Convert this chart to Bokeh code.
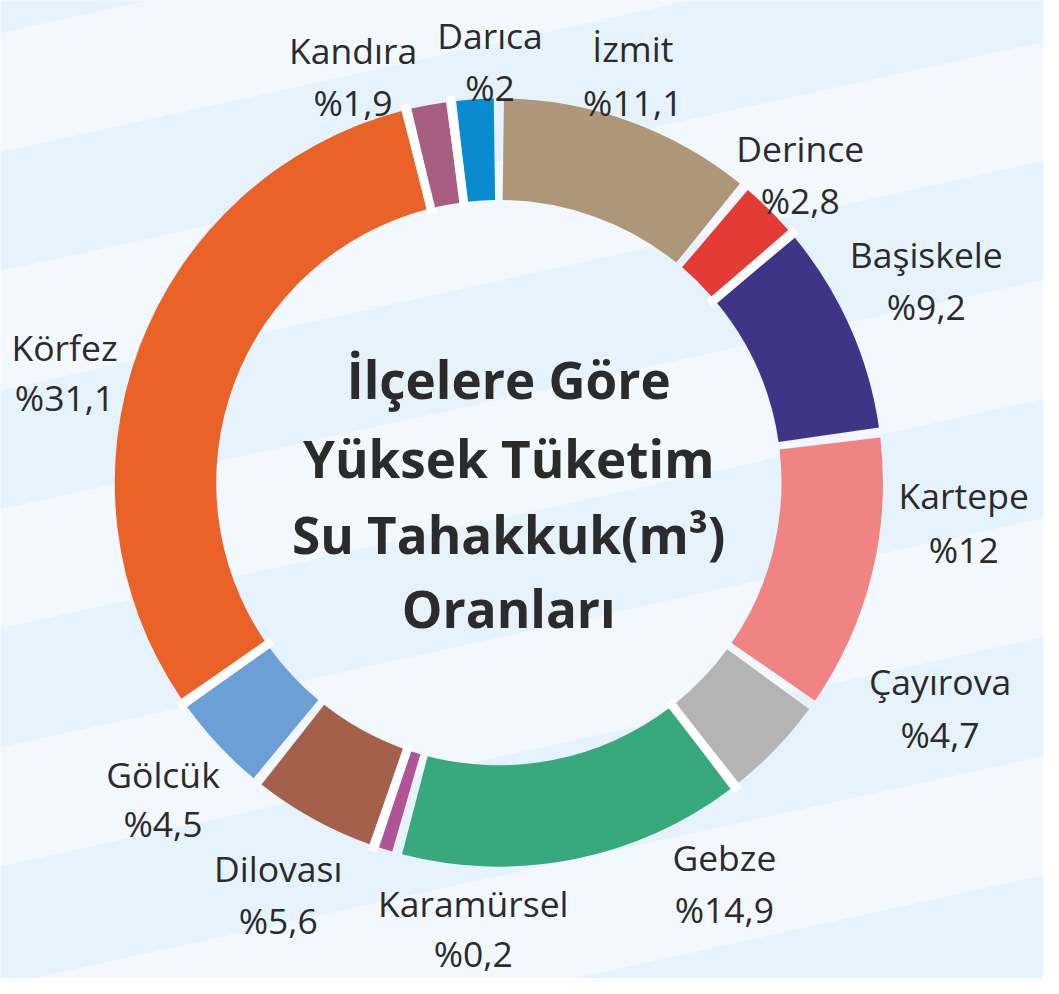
import numpy as np
from bokeh.plotting import figure
from bokeh.models import Range1d, ColumnDataSource
from bokeh.embed import file_html
from bokeh.resources import INLINE
from bokeh.core.properties import value

# ---------------- data ----------------
districts = ["İzmit", "Derince", "Başiskele", "Kartepe", "Çayırova", "Gebze",
             "Karamürsel", "Dilovası", "Gölcük", "Körfez", "Kandıra", "Darıca"]
shares = [11.1, 2.8, 9.2, 12, 4.7, 14.9, 0.2, 5.6, 4.5, 31.1, 1.9, 2]
title_lines = ["İlçelere Göre", "Yüksek Tüketim", "Su Tahakkuk(m³)", "Oranları"]

# ---------------- styles / layout ----------------
colors = ["#ad9778", "#e43b34", "#3f3586", "#f08482", "#b4b4b4", "#38a97c",
          "#b05497", "#a5604b", "#6b9fd5", "#eb6228", "#a85e82", "#0a8bd0"]
white_gap_after = [False, True, False, False, True, False,
                   True, False, True, True, True, False]
# label anchor (centre x, name baseline, value baseline) in reference pixels
label_pos = {
    "İzmit": (642, 48, 103), "Derince": (812, 150, 203), "Başiskele": (940, 258, 310),
    "Kartepe": (978, 503, 557), "Çayırova": (954, 692, 745), "Gebze": (735, 871, 923),
    "Karamürsel": (480, 917, 968), "Dilovası": (282, 882, 935), "Gölcük": (165, 786, 836),
    "Körfez": (65, 352, 403), "Kandıra": (358, 50, 103), "Darıca": (497, 35, 88),
}
IMG_W, IMG_H = 1059, 994
def Y(sy):
    return IMG_H - sy

W, H = 1043, 978
S = W / IMG_W  # pixel scale of reference units

CX, CY = 506, Y(490)
R_IN, R_OUT = 287, 390
FONT = value("Open Sans")
TXT = "#2b2b2b"
LIGHT, DARK = "#f2f8fe", "#e6f3fc"
LBL_SIZE = f"{36 * S:.1f}px"
TTL_SIZE = f"{52 * S:.1f}px"

p = figure(width=W, height=H, x_range=Range1d(0, IMG_W), y_range=Range1d(0, IMG_H),
           output_backend="svg", toolbar_location=None, min_border=0,
           background_fill_color=LIGHT, border_fill_color=LIGHT)
p.axis.visible = False
p.grid.visible = False
p.outline_line_color = None

# background stripes
slope = 0.22
xs, ys = [], []
for k in range(-1, 6):
    top = 154 + 242 * k
    bot = top + 121
    xs.append([0, IMG_W, IMG_W, 0])
    ys.append([Y(top), Y(top - slope * IMG_W), Y(bot - slope * IMG_W), Y(bot)])
p.patches(xs, ys, fill_color=DARK, line_color=None)

# donut geometry (tiny slices get a minimum visible span)
vals = np.array(shares, dtype=float)
disp = np.maximum(vals, 1.0)
disp = disp / disp.sum()
cum = np.concatenate([[0], np.cumsum(disp)])
pad = 4.5 / ((R_IN + R_OUT) / 2)
start = np.pi / 2 - 2 * np.pi * cum[:-1] - pad
end = np.pi / 2 - 2 * np.pi * cum[1:] + pad

src = ColumnDataSource(dict(start=start, end=end, color=colors, name=districts))
p.annular_wedge(x=CX, y=CY, inner_radius=R_IN, outer_radius=R_OUT,
                start_angle="start", end_angle="end", direction="clock",
                fill_color="color", line_color=None, source=src)

# white separators
ang = np.pi / 2 - 2 * np.pi * cum[1:]
wx0, wy0, wx1, wy1 = [], [], [], []
for a, w in zip(ang, white_gap_after):
    if w:
        wx0.append(CX + (R_IN - 6) * np.cos(a)); wy0.append(CY + (R_IN - 6) * np.sin(a))
        wx1.append(CX + (R_OUT + 6) * np.cos(a)); wy1.append(CY + (R_OUT + 6) * np.sin(a))
p.segment(wx0, wy0, wx1, wy1, line_color="white", line_width=9 * S)

# labels
def fmt(v):
    return "%" + f"{v:g}".replace(".", ",")

lx = [label_pos[d][0] for d in districts]
p.text(x=lx, y=[Y(label_pos[d][1]) for d in districts], text=districts,
       text_font=FONT, text_font_size=LBL_SIZE, text_color=TXT,
       text_align="center", text_baseline="alphabetic")
p.text(x=lx, y=[Y(label_pos[d][2]) for d in districts], text=[fmt(v) for v in shares],
       text_font=FONT, text_font_size=LBL_SIZE, text_color=TXT,
       text_align="center", text_baseline="alphabetic")

# centre title
p.text(x=[516] * 4, y=[Y(b) for b in (385, 465, 542, 617)], text=title_lines,
       text_font=FONT, text_font_size=TTL_SIZE, text_font_style="bold", text_color=TXT,
       text_align="center", text_baseline="alphabetic")

open("out.html", "w").write(file_html(p, INLINE))
